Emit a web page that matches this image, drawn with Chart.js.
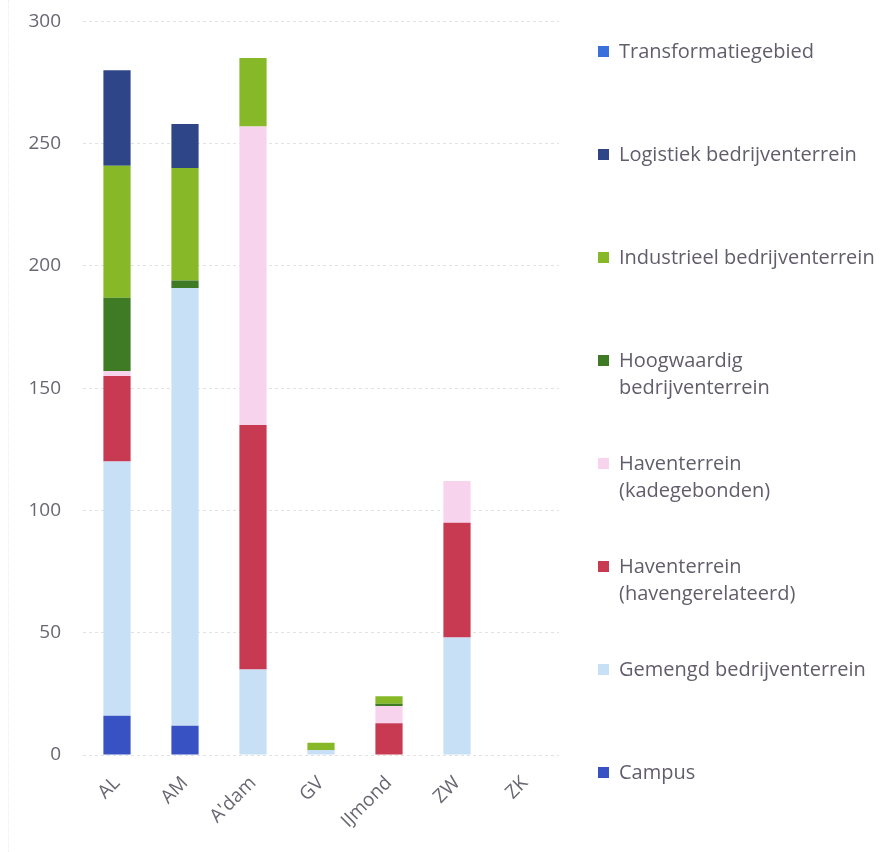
<!DOCTYPE html>
<html>
<head>
<meta charset="utf-8">
<script src="https://cdn.jsdelivr.net/npm/chart.js@4/dist/chart.umd.min.js"></script>
<style>
  html, body { margin: 0; padding: 0; background: #ffffff; }
  #wrap { position: relative; width: 890px; height: 852px; overflow: hidden; }
  #frame { position: absolute; left: 8px; top: 0; height: 852px; border-left: 1px dotted #ececec; }
  canvas { position: absolute; left: 0; top: -12px; }
  #legend { position: absolute; left: 598px; top: 0; width: 292px; font-family: "Open Sans", sans-serif; font-size: 20px; color: #625d6b; }
  .item { position: absolute; left: 0; display: flex; align-items: flex-start; line-height: 27px; white-space: nowrap; }
  .box { width: 11px; height: 11px; margin-top: 9px; margin-right: 10px; flex: none; }
</style>
</head>
<body>
<div id="wrap">
  <div id="frame"></div>
  <canvas id="c" width="890" height="864"></canvas>
  <div id="legend"></div>
</div>
<script>
const categories = ['AL', 'AM', "A'dam", 'GV', 'IJmond', 'ZW', 'ZK'];
const yTicks = [0, 50, 100, 150, 200, 250, 300];

const campus           = [16, 12, 0, 0, 0, 0, 0];
const gemengd          = [104, 179, 35, 2, 0, 48, 0];
const havenGerelateerd = [35, 0, 100, 0, 13, 47, 0];
const havenKade        = [2, 0, 122, 0, 7, 17, 0];
const hoogwaardig      = [30, 3, 0, 0, 1, 0, 0];
const industrieel      = [54, 46, 28, 3, 3, 0, 0];
const logistiek        = [39, 18, 0, 0, 0, 0, 0];
const transformatie    = [0, 0, 0, 0, 0, 0, 0];

const seriesNames = ['Campus', 'Gemengd bedrijventerrein', 'Haventerrein\n(havengerelateerd)', 'Haventerrein\n(kadegebonden)', 'Hoogwaardig\nbedrijventerrein', 'Industrieel bedrijventerrein', 'Logistiek bedrijventerrein', 'Transformatiegebied'];
const seriesData = [campus, gemengd, havenGerelateerd, havenKade, hoogwaardig, industrieel, logistiek, transformatie];
const seriesColors = ['#3852c4', '#c7e0f6', '#c83a52', '#f8d3ee', '#3f7b24', '#86b827', '#2e4688', '#3a70dc'];

const datasets = seriesData.map((d, i) => ({
  label: seriesNames[i],
  data: d,
  backgroundColor: seriesColors[i],
  borderWidth: 0,
  barPercentage: 0.4,
  categoryPercentage: 1.0
}));

const font = { family: '"Open Sans", sans-serif', size: 19 };

new Chart(document.getElementById('c'), {
  type: 'bar',
  data: { labels: categories, datasets },
  options: {
    responsive: false,
    animation: false,
    layout: { padding: { top: 11, right: 331, left: 0, bottom: 0 } },
    plugins: { legend: { display: false }, tooltip: { enabled: false } },
    scales: {
      x: {
        stacked: true,
        grid: { display: false, drawTicks: false },
        border: { display: false },
        ticks: { color: '#6a6672', font, minRotation: 45, maxRotation: 45, padding: 17 },
        afterFit(scale) { scale.height = 97; }
      },
      y: {
        stacked: true,
        min: 0, max: 300,
        afterBuildTicks(scale) { scale.ticks = yTicks.map(v => ({ value: v })); },
        grid: { color: '#e2e2e2', drawTicks: false, tickLength: 0 },
        border: { display: false, dash: [3, 3] },
        ticks: { color: '#6a6672', font, padding: 22 },
        afterFit(scale) { scale.width = 83; }
      }
    }
  }
});

// HTML legend, reversed order (top: Transformatiegebied)
const legend = document.getElementById('legend');
const order = seriesNames.map((_, i) => i).reverse();
order.forEach((idx, k) => {
  const it = document.createElement('div');
  it.className = 'item';
  it.style.top = (37 + k * 103) + 'px';
  const b = document.createElement('div');
  b.className = 'box';
  b.style.background = seriesColors[idx];
  const t = document.createElement('div');
  t.innerHTML = seriesNames[idx].split('\n').join('<br>');
  it.appendChild(b); it.appendChild(t);
  legend.appendChild(it);
});
</script>
</body>
</html>
